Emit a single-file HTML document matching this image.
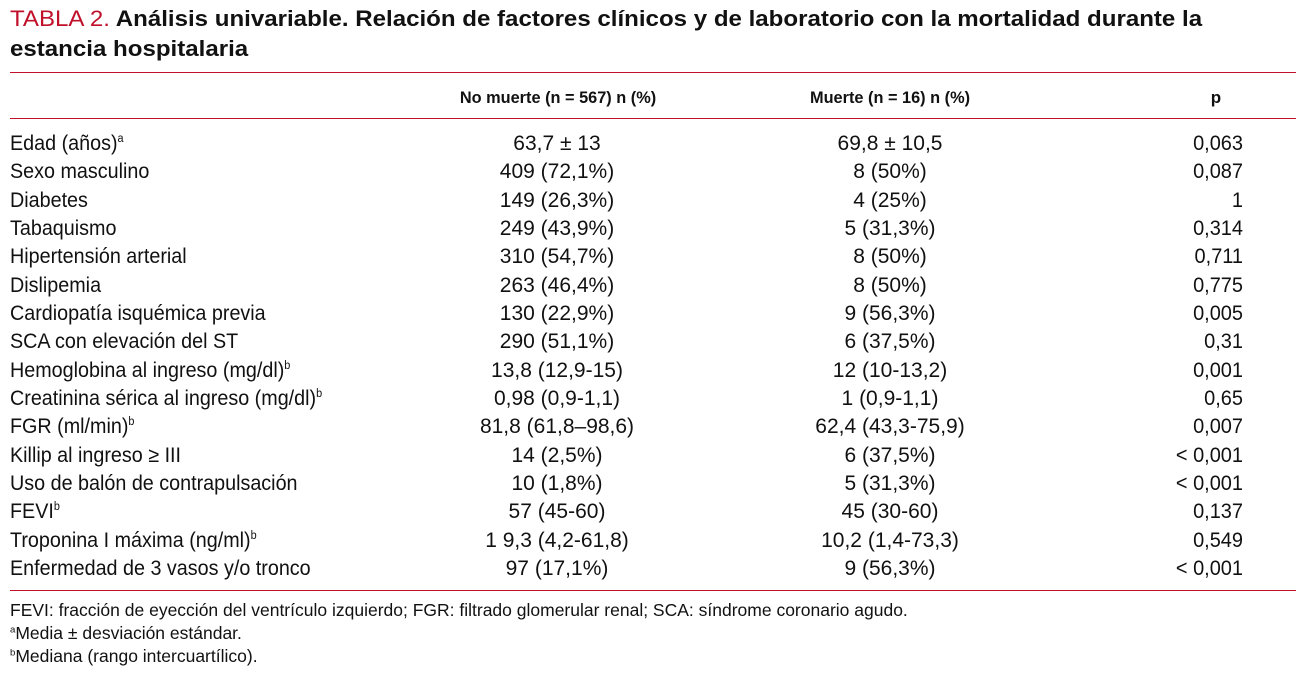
<!DOCTYPE html>
<html><head><meta charset="utf-8"><style>
body{margin:0;width:1303px;height:677px;background:#fff;position:relative;overflow:hidden;font-family:"Liberation Sans",sans-serif;color:#111}
.t{position:absolute;white-space:nowrap;line-height:1;transform:scaleX(.94);transform-origin:left center}
.c{transform:translateX(-50%) scaleX(1);transform-origin:center center}
.line{position:absolute;left:10px;width:1286px;height:1px;background:#c0102a}
sup{font-size:.55em;vertical-align:.7em}
</style></head><body>
<div class="t" style="left:10px;top:8px;font-size:22.5px;font-weight:bold;transform:scaleX(1.07)"><span style="color:#c0102a;font-weight:normal">TABLA 2.</span> Análisis univariable. Relación de factores clínicos y de laboratorio con la mortalidad durante la</div>
<div class="t" style="left:10px;top:38px;font-size:22.5px;font-weight:bold;transform:scaleX(1.07)">estancia hospitalaria</div>
<div class="line" style="top:72px"></div>
<div class="t c" style="left:558px;top:89px;font-size:17px;font-weight:bold;transform:translateX(-50%) scaleX(.96)">No muerte (n = 567) n (%)</div>
<div class="t c" style="left:890px;top:89px;font-size:17px;font-weight:bold;transform:translateX(-50%) scaleX(.96)">Muerte (n = 16) n (%)</div>
<div class="t c" style="left:1216px;top:89px;font-size:17px;font-weight:bold">p</div>
<div class="line" style="top:118px"></div>
<div id="rows"></div>
<div class="line" style="top:590px"></div>
<div class="t" style="left:10px;top:602px;font-size:17.5px;transform:scaleX(1)">FEVI: fracción de eyección del ventrículo izquierdo; FGR: filtrado glomerular renal; SCA: síndrome coronario agudo.</div>
<div class="t" style="left:10px;top:625px;font-size:17.5px;transform:scaleX(1)"><sup>a</sup>Media ± desviación estándar.</div>
<div class="t" style="left:10px;top:648px;font-size:17.5px;transform:scaleX(1)"><sup>b</sup>Mediana (rango intercuartílico).</div>
<script>
const labels=["Edad (años)<sup>a</sup>","Sexo masculino","Diabetes","Tabaquismo","Hipertensión arterial","Dislipemia","Cardiopatía isquémica previa","SCA con elevación del ST","Hemoglobina al ingreso (mg/dl)<sup>b</sup>","Creatinina sérica al ingreso (mg/dl)<sup>b</sup>","FGR (ml/min)<sup>b</sup>","Killip al ingreso ≥ III","Uso de balón de contrapulsación","FEVI<sup>b</sup>","Troponina I máxima (ng/ml)<sup>b</sup>","Enfermedad de 3 vasos y/o tronco"];
const noMuerte=["63,7 ± 13","409 (72,1%)","149 (26,3%)","249 (43,9%)","310 (54,7%)","263 (46,4%)","130 (22,9%)","290 (51,1%)","13,8 (12,9-15)","0,98 (0,9-1,1)","81,8 (61,8–98,6)","14 (2,5%)","10 (1,8%)","57 (45-60)","1 9,3 (4,2-61,8)","97 (17,1%)"];
const muerte=["69,8 ± 10,5","8 (50%)","4 (25%)","5 (31,3%)","8 (50%)","8 (50%)","9 (56,3%)","6 (37,5%)","12 (10-13,2)","1 (0,9-1,1)","62,4 (43,3-75,9)","6 (37,5%)","5 (31,3%)","45 (30-60)","10,2 (1,4-73,3)","9 (56,3%)"];
const pvals=["0,063","0,087","1","0,314","0,711","0,775","0,005","0,31","0,001","0,65","0,007","< 0,001","< 0,001","0,137","0,549","< 0,001"];
const R=document.getElementById('rows');
labels.forEach((l,i)=>{
  const top=133+i*28.33;
  const mk=(html,left,cls,name)=>{const d=document.createElement('div');d.className=cls;d.innerHTML=html;d.style.left=left+'px';d.style.top=top+'px';d.style.fontSize='21px';
    
    
    R.appendChild(d);return d;};
  mk(l,10,'t','row-label-'+i);
  mk(noMuerte[i],557,'t c','no-muerte-value-'+i);
  mk(muerte[i],890,'t c','muerte-value-'+i);
  const p=mk(pvals[i],1243,'t','p-value-'+i);
  p.style.transformOrigin='right center';p.style.transform='translateX(-100%) scaleX(.95)';
});
</script>
</body></html>
